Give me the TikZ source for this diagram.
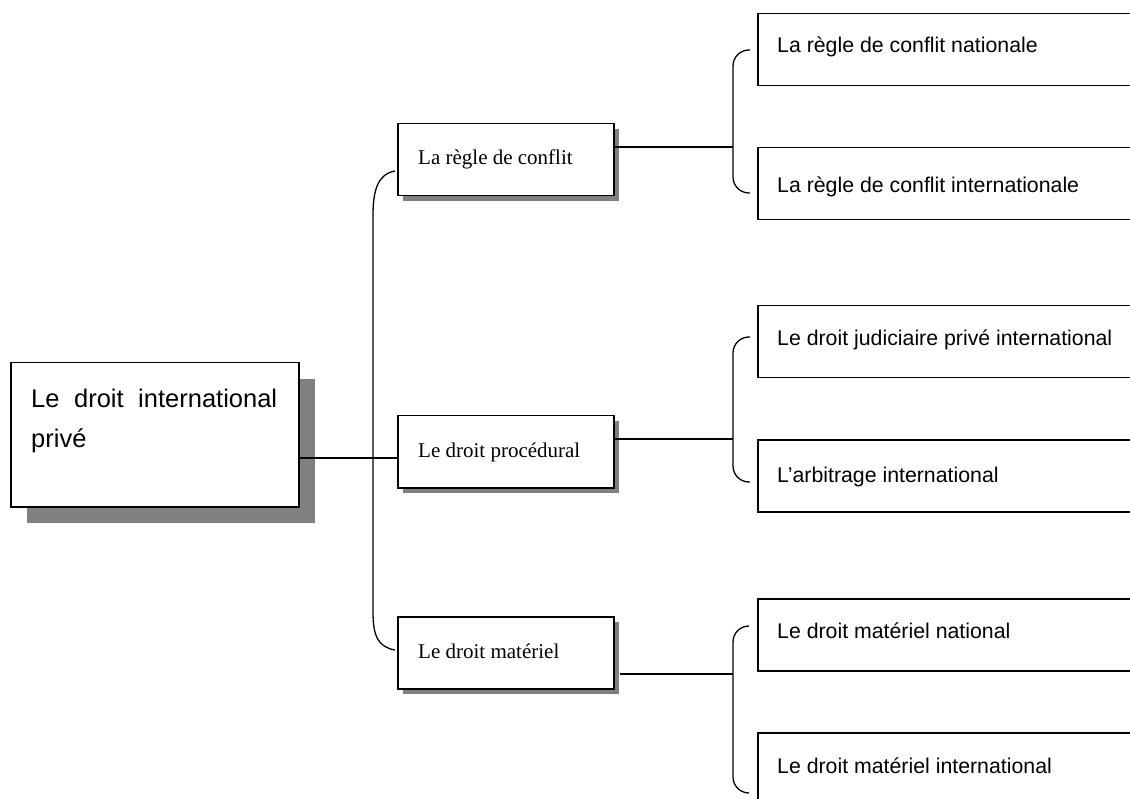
\documentclass[tikz,border=0pt]{standalone}
\usepackage{fontspec}
\setmainfont{Liberation Serif}
\newfontfamily\arialf{Liberation Sans}
\usetikzlibrary{shadows,calc}
\definecolor{shadowgray}{RGB}{128,128,128}
\begin{document}
\begin{tikzpicture}[x=1pt,y=-1pt,
  box/.style={draw=black, line width=1.5pt, fill=white, rectangle, inner sep=0pt, anchor=north west},
  midbox/.style={box, minimum width=216pt, minimum height=72pt,
     general shadow={fill=shadowgray, shadow xshift=5pt, shadow yshift=-5pt}},
  rightbox/.style={box, minimum width=420pt, minimum height=72pt},
  conn/.style={draw=black, line width=1.3pt},
  maintext/.style={anchor=base west, inner sep=0pt, font=\arialf\fontsize{25.5}{39}\selectfont},
  midtext/.style={anchor=base west, inner sep=0pt, font=\fontsize{21}{25}\selectfont},
  righttext/.style={anchor=base west, inner sep=0pt, font=\arialf\fontsize{21.3}{26}\selectfont}]
\useasboundingbox (0,0) rectangle (1130,799);
\clip (0,0) rectangle (1130,799);

% main box
\node[box, minimum width=288pt, minimum height=144pt,
  general shadow={fill=shadowgray, shadow xshift=16pt, shadow yshift=-16pt}] (main) at (10,362) {};
\node[maintext] (mainA) at (31,408) {\makebox[246pt][s]{Le droit international}};
\node[maintext] (mainB) at (31,447) {privé};

% middle boxes
\node[midbox] (m1) at (397,123) {};
\node[midtext] (m1t) at (418,165) {La règle de conflit};
\node[midbox] (m2) at (397,415) {};
\node[midtext] (m2t) at (418,457) {Le droit procédural};
\node[midbox] (m3) at (397,616) {};
\node[midtext] (m3t) at (418,658) {Le droit matériel};

% right boxes
\node[rightbox] (r1) at (757,13) {};
\node[righttext] (r1t) at (777,53) {La règle de conflit nationale};
\node[rightbox] (r2) at (757,147) {};
\node[righttext] (r2t) at (777,193) {La règle de conflit internationale};
\node[rightbox] (r3) at (757,305) {};
\node[righttext] (r3t) at (777,346) {Le droit judiciaire privé international};
\node[rightbox] (r4) at (757,439) {};
\node[righttext] (r4t) at (777,482) {L’arbitrage international};
\node[rightbox] (r5) at (757,598) {};
\node[righttext] (r5t) at (777,638) {Le droit matériel national};
\node[rightbox] (r6) at (757,732) {};
\node[righttext] (r6t) at (777,773) {Le droit matériel international};

% junction coordinates
\coordinate (jm) at (372,458);
\coordinate (lt) at (395,171);
\coordinate (lb) at (395,650);
\coordinate (j1) at (733,147);
\coordinate (b1t) at (750,50);
\coordinate (b1b) at (750,193);
\coordinate (j2) at (733,439);
\coordinate (b2t) at (750,337);
\coordinate (b2b) at (750,482);
\coordinate (j3) at (733,674);
\coordinate (b3t) at (749,626);
\coordinate (b3b) at (749,793);

% main connector
\draw[conn] (main.east |- jm) -- (m2.west |- jm);
% left bracket
\draw[conn] (lt) .. controls (378,174) and (373,190) .. (373,215) -- (373,612)
   .. controls (373,636) and (378,647) .. (lb);

% right brackets
\draw[conn, rounded corners=16pt] (b1t) -| (j1) |- (b1b);
\draw[conn] (m1.east |- j1) -- (j1);
\draw[conn, rounded corners=16pt] (b2t) -| (j2) |- (b2b);
\draw[conn] (m2.east |- j2) -- (j2);
\draw[conn, rounded corners=16pt] (b3t) -| (j3) |- (b3b);
\draw[conn] ([xshift=5pt]m3.east |- j3) -- (j3);
\end{tikzpicture}
\end{document}
